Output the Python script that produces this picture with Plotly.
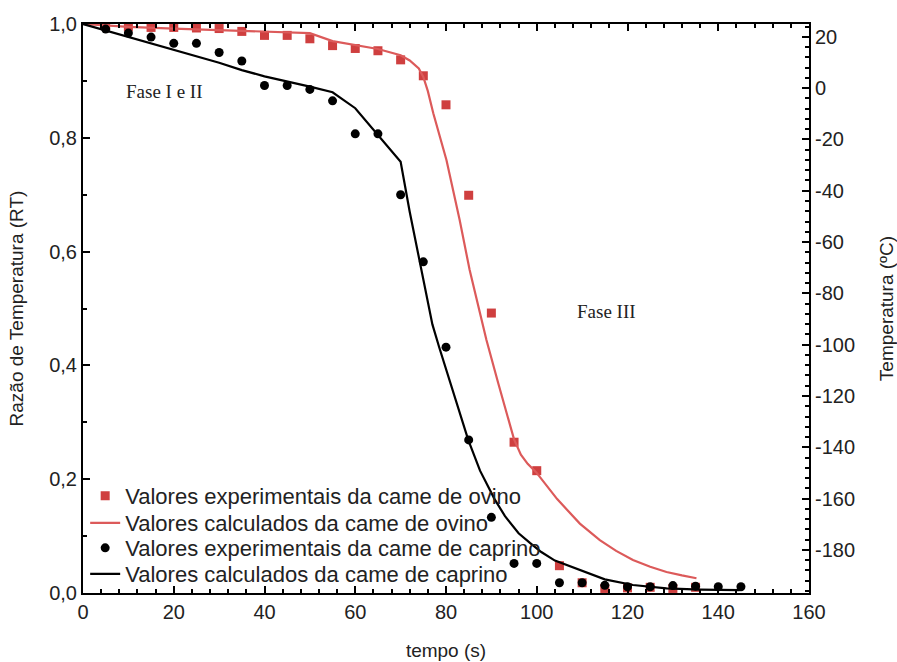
import plotly.graph_objects as go

# ---- data ----
t_ovino_exp = [5, 10, 15, 20, 25, 30, 35, 40, 45, 50, 55, 60, 65, 70, 75, 80, 85, 90,
               95, 100, 105, 110, 115, 120, 125, 130, 135]
rt_ovino_exp = [0.997, 0.995, 0.994, 0.994, 0.993, 0.992, 0.987, 0.980, 0.980, 0.974,
                0.962, 0.957, 0.953, 0.937, 0.909, 0.858, 0.699, 0.492, 0.265, 0.215,
                0.048, 0.018, 0.008, 0.009, 0.010, 0.008, 0.010]

t_ovino_calc = [0, 10, 20, 30, 40, 50, 55, 60, 65, 70, 72, 74, 75, 76, 77.2, 80.1, 83,
                85.2, 87.4, 88.9, 91.5, 93.5, 95, 96.5, 98, 99.9, 104.5, 109.5, 113.9,
                117.5, 121.2, 125, 128.6, 132, 135.2]
rt_ovino_calc = [1.0, 0.995, 0.992, 0.989, 0.986, 0.984, 0.970, 0.963, 0.956, 0.945,
                 0.936, 0.922, 0.907, 0.882, 0.843, 0.761, 0.656, 0.568, 0.497, 0.445,
                 0.369, 0.312, 0.270, 0.243, 0.227, 0.212, 0.165, 0.122, 0.093, 0.074,
                 0.058, 0.046, 0.037, 0.031, 0.026]

t_caprino_exp = [5, 10, 15, 20, 25, 30, 35, 40, 45, 50, 55, 60, 65, 70, 75, 80, 85, 90,
                 95, 100, 105, 110, 115, 120, 125, 130, 135, 140, 145]
rt_caprino_exp = [0.991, 0.984, 0.977, 0.966, 0.966, 0.950, 0.935, 0.892, 0.892, 0.885,
                  0.865, 0.807, 0.807, 0.700, 0.582, 0.432, 0.269, 0.133, 0.052, 0.052,
                  0.018, 0.018, 0.0135, 0.011, 0.011, 0.013, 0.012, 0.011, 0.011]

t_caprino_calc = [0, 10, 20, 30, 35, 40, 50, 55, 60, 65, 70, 72, 74, 75.7, 77, 78.5, 81,
                  84.9, 87.5, 90.7, 93, 96, 98.5, 101, 104, 109.5, 115, 121.2, 128.6,
                  136, 144.7]
rt_caprino_calc = [1.0, 0.977, 0.954, 0.932, 0.919, 0.908, 0.890, 0.880, 0.852, 0.805,
                   0.758, 0.670, 0.590, 0.518, 0.472, 0.432, 0.368, 0.269, 0.215, 0.165,
                   0.135, 0.105, 0.088, 0.072, 0.057, 0.040, 0.024, 0.014, 0.008,
                   0.006, 0.005]

left_tickvals = [0.0, 0.2, 0.4, 0.6, 0.8, 1.0]
left_ticktext = ["0,0", "0,2", "0,4", "0,6", "0,8", "1,0"]
right_tickvals = [20, 0, -20, -40, -60, -80, -100, -120, -140, -160, -180]
right_ticktext = ["20", "0", "-20", "-40", "-60", "-80", "-100", "-120", "-140", "-160", "-180"]
x_tickvals = [0, 20, 40, 60, 80, 100, 120, 140, 160]

legend_names = [
    "Valores experimentais da came de ovino",
    "Valores calculados da came de ovino",
    "Valores experimentais da came de caprino",
    "Valores calculados da came de caprino",
]

RED_M = "#cf3f3f"
RED_L = "#dc5a5a"
FONT = "Liberation Sans, Arial, sans-serif"
SERIF = "Liberation Serif, Times New Roman, serif"

fig = go.Figure()
fig.add_trace(go.Scatter(x=t_ovino_exp, y=rt_ovino_exp, mode="markers", name=legend_names[0],
                         marker=dict(symbol="square", size=9, color=RED_M), legend="legend"))
fig.add_trace(go.Scatter(x=t_ovino_calc, y=rt_ovino_calc, mode="lines", name=legend_names[1],
                         line=dict(color=RED_L, width=2.2), legend="legend2"))
fig.add_trace(go.Scatter(x=t_caprino_exp, y=rt_caprino_exp, mode="markers", name=legend_names[2],
                         marker=dict(symbol="circle", size=9, color="black"), legend="legend3"))
fig.add_trace(go.Scatter(x=t_caprino_calc, y=rt_caprino_calc, mode="lines", name=legend_names[3],
                         line=dict(color="black", width=2.2), legend="legend4"))
# dummy trace to activate the right axis
fig.add_trace(go.Scatter(x=[0], y=[0], yaxis="y2", mode="markers", marker=dict(opacity=0),
                         showlegend=False, hoverinfo="skip"))

fig.add_annotation(x=18, y=0.882, text="Fase I e II", showarrow=False,
                   font=dict(family=SERIF, size=19, color="#222"))
fig.add_annotation(x=115.4, y=0.494, text="Fase III", showarrow=False,
                   font=dict(family=SERIF, size=19, color="#222"))

axis_common = dict(showgrid=False, zeroline=False, showline=True, linecolor="black",
                   linewidth=2, ticks="inside", tickcolor="black", tickwidth=1.5, ticklen=7,
                   automargin=False,
                   tickfont=dict(family=FONT, size=20, color="#222"))

leg_common = dict(x=0.003, xanchor="left", yanchor="middle", bgcolor="rgba(0,0,0,0)",
                  font=dict(family=FONT, size=22, color="#222"), itemwidth=30)

fig.update_layout(
    width=897, height=662,
    margin=dict(l=83, r=88, t=24, b=69),
    paper_bgcolor="white", plot_bgcolor="white",
    font=dict(family=FONT, size=19, color="#222"),
    xaxis=dict(range=[0, 160], tickvals=x_tickvals, mirror="ticks",
               minor=dict(dtick=4, ticks="inside", ticklen=4, tickcolor="black", tickwidth=1.5),
               title=dict(text="tempo (s)", standoff=22, font=dict(size=19)),
               **axis_common),
    yaxis=dict(range=[0, 1.0], tickvals=left_tickvals, ticktext=left_ticktext,
               minor=dict(dtick=0.1, ticks="inside", ticklen=4, tickcolor="black", tickwidth=1.5),
               title=dict(text="Razão de Temperatura (RT)", standoff=21, font=dict(size=19)),
               **axis_common),
    yaxis2=dict(range=[-196.8, 25], overlaying="y", side="right", anchor="x",
                tickvals=right_tickvals, ticktext=right_ticktext,
                minor=dict(dtick=4, ticks="inside", ticklen=4, tickcolor="black", tickwidth=1.5),
                title=dict(text="Temperatura (ºC)", standoff=26, font=dict(size=19)),
                **axis_common),
    legend=dict(y=0.1705, **leg_common),
    legend2=dict(y=0.123, **leg_common),
    legend3=dict(y=0.079, **leg_common),
    legend4=dict(y=0.0334, **leg_common),
    showlegend=True,
)

fig.write_html("out.html")
